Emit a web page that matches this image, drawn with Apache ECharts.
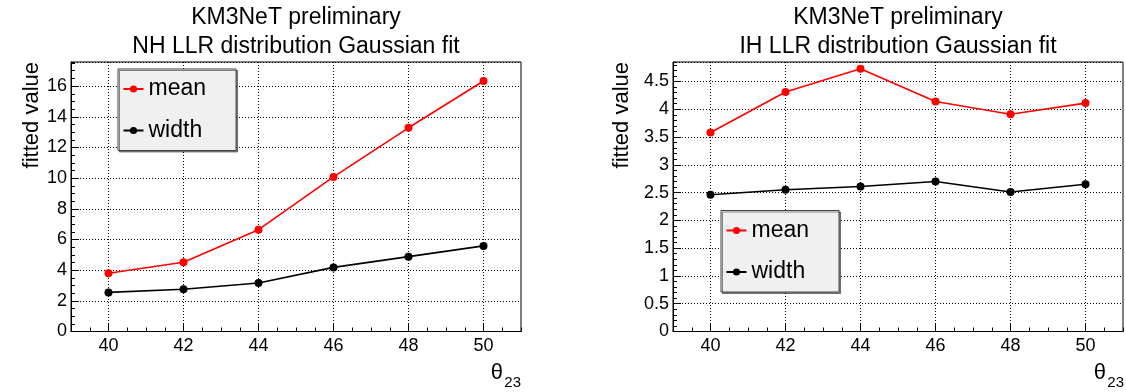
<!DOCTYPE html>
<html>
<head>
<meta charset="utf-8">
<script src="https://cdn.jsdelivr.net/npm/echarts@6/dist/echarts.min.js"></script>
<style>
html,body{margin:0;padding:0;background:#fff;}
#chart{width:1126px;height:392px;}
</style>
</head>
<body>
<div id="chart"></div>
<script>
// ---- data ----
var theta = [40, 42, 44, 46, 48, 50];
var xTickLabels = [40, 42, 44, 46, 48, 50];
var nhMean  = [3.80, 4.51, 6.64, 10.08, 13.28, 16.33];
var nhWidth = [2.55, 2.75, 3.16, 4.18, 4.88, 5.58];
var ihMean  = [3.58, 4.31, 4.73, 4.14, 3.91, 4.11];
var ihWidth = [2.46, 2.55, 2.61, 2.70, 2.51, 2.65];
var titleLine1 = 'KM3NeT preliminary';
var nhTitle = 'NH LLR distribution Gaussian fit';
var ihTitle = 'IH LLR distribution Gaussian fit';
var seriesNames = ['mean', 'width'];

var FONT = '"Liberation Sans", Arial, Helvetica, sans-serif';
function pairs(xs, ys) { return xs.map(function (x, i) { return [x, ys[i]]; }); }

var grids = [
  {left: 71, top: 62, width: 450, height: 269.5},
  {left: 673, top: 62, width: 450, height: 269.5}
];
var yMax = [17.57, 4.85];
var yMajor = [2, 0.5];
var yMinor = [0.5, 0.1];

var xAxes = [], yAxes = [];
grids.forEach(function (g, gi) {
  // minor x ticks
  xAxes.push({
    type: 'value', gridIndex: gi, min: 39, max: 51, interval: 0.5, position: 'bottom',
    axisLine: {show: true, onZero: false, lineStyle: {color: '#000', width: 1}},
    axisTick: {show: true, inside: true, length: 4, lineStyle: {color: '#000'}},
    axisLabel: {show: false}, splitLine: {show: false}
  });
  // major x ticks + labels + grid
  xAxes.push({
    type: 'value', gridIndex: gi, min: 39, max: 51, position: 'bottom', offset: 0,
    axisLine: {show: false, onZero: false},
    axisTick: {show: true, inside: true, length: 8, customValues: xTickLabels, lineStyle: {color: '#000'}},
    axisLabel: {show: true, customValues: xTickLabels, margin: 6, fontSize: 18, color: '#000', fontFamily: FONT},
    splitLine: {show: true, lineStyle: {color: '#000', type: [1, 2], width: 1}}
  });
  // minor y ticks
  yAxes.push({
    type: 'value', gridIndex: gi, min: 0, max: yMax[gi], interval: yMinor[gi], position: 'left',
    axisLine: {show: false},
    axisTick: {show: true, inside: true, length: 4, lineStyle: {color: '#000'}},
    axisLabel: {show: false}, splitLine: {show: false}
  });
  // major y ticks + labels + grid
  yAxes.push({
    type: 'value', gridIndex: gi, min: 0, max: yMax[gi], interval: yMajor[gi], position: 'left', offset: 0,
    axisLine: {show: true, lineStyle: {color: '#000', width: 1}},
    axisTick: {show: true, inside: true, length: 8, lineStyle: {color: '#000'}},
    axisLabel: {show: true, showMaxLabel: false, margin: 4, fontSize: 18, color: '#000', fontFamily: FONT},
    splitLine: {show: true, lineStyle: {color: '#000', type: [1, 2], width: 1}}
  });
});

function mkSeries(name, gi, ys, color) {
  return {
    name: name, type: 'line', xAxisIndex: gi * 2 + 1, yAxisIndex: gi * 2 + 1,
    data: pairs(theta, ys), symbol: 'circle', symbolSize: 8, showSymbol: true,
    lineStyle: {color: color, width: 1.6}, itemStyle: {color: color},
    emphasis: {disabled: true}, z: 3
  };
}

function mkLegend(left, top) {
  return {
    data: seriesNames, orient: 'vertical', left: left, top: top,
    padding: [8, 30, 8, 4.5], itemGap: 17.5, itemWidth: 20, itemHeight: 9,
    textStyle: {fontSize: 23, lineHeight: 24, color: '#000', fontFamily: FONT},
    backgroundColor: '#f0f0f0', borderColor: '#444', borderWidth: 1, borderRadius: 0,
    shadowColor: 'rgba(0,0,0,0.45)', shadowBlur: 0, shadowOffsetX: 1.5, shadowOffsetY: 1.5,
    selectedMode: false
  };
}

function mkTitle(cx, text) {
  return {
    text: titleLine1 + '\n' + text, left: cx, top: 3, textAlign: 'center', padding: 0,
    textStyle: {fontSize: 23, fontWeight: 'normal', lineHeight: 29, color: '#000', fontFamily: FONT}
  };
}

var option = {
  animation: false,
  backgroundColor: '#fff',
  title: [mkTitle(grids[0].left + grids[0].width / 2, nhTitle), mkTitle(grids[1].left + grids[1].width / 2, ihTitle)],
  legend: [mkLegend(118, 69), mkLegend(721, 210.5)],
  grid: grids.map(function (g) {
    return {left: g.left, top: g.top, width: g.width, height: g.height, show: true,
            borderColor: '#000', borderWidth: 1, backgroundColor: 'transparent', containLabel: false};
  }),
  xAxis: xAxes,
  yAxis: yAxes,
  series: [
    mkSeries('mean', 0, nhMean, '#ff0000'),
    mkSeries('width', 0, nhWidth, '#000000'),
    mkSeries('mean', 1, ihMean, '#ff0000'),
    mkSeries('width', 1, ihWidth, '#000000')
  ],
  graphic: [
    {type: 'text', x: 32, y: 62, rotation: Math.PI / 2, silent: true,
     style: {text: 'fitted value', fontSize: 22, fontFamily: FONT, fill: '#000', align: 'right', verticalAlign: 'middle'}},
    {type: 'text', x: 622, y: 62, rotation: Math.PI / 2, silent: true,
     style: {text: 'fitted value', fontSize: 22, fontFamily: FONT, fill: '#000', align: 'right', verticalAlign: 'middle'}},
    {type: 'text', x: 503, y: 373, silent: true,
     style: {text: 'θ', fontSize: 22, fontFamily: FONT, fill: '#000', align: 'right', verticalAlign: 'middle'}},
    {type: 'text', x: 521, y: 383, silent: true,
     style: {text: '23', fontSize: 15, fontFamily: FONT, fill: '#000', align: 'right', verticalAlign: 'middle'}},
    {type: 'text', x: 1106, y: 373, silent: true,
     style: {text: 'θ', fontSize: 22, fontFamily: FONT, fill: '#000', align: 'right', verticalAlign: 'middle'}},
    {type: 'text', x: 1124, y: 383, silent: true,
     style: {text: '23', fontSize: 15, fontFamily: FONT, fill: '#000', align: 'right', verticalAlign: 'middle'}}
  ]
};

var chart = echarts.init(document.getElementById('chart'), null, {renderer: 'canvas'});
chart.setOption(option);
</script>
</body>
</html>
